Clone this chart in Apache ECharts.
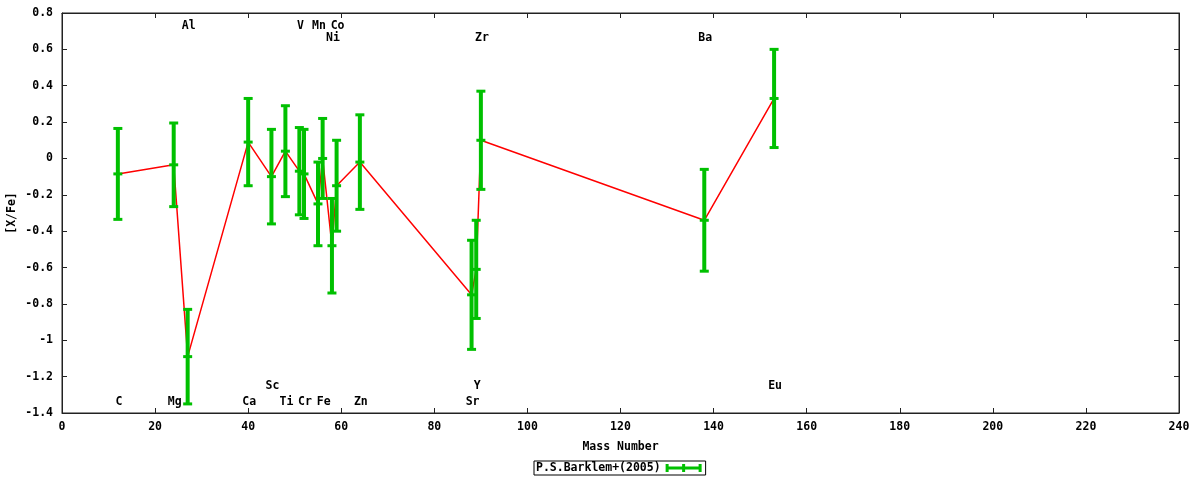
<!DOCTYPE html>
<html>
<head>
<meta charset="utf-8">
<script src="https://cdn.jsdelivr.net/npm/echarts@6/dist/echarts.min.js"></script>
<style>
  html, body { margin: 0; padding: 0; background: #fff; }
  #chart { width: 1200px; height: 480px; }
</style>
</head>
<body>
<div id="chart"></div>
<script>
// element data
const elements = ["C", "Mg", "Al", "Ca", "Sc", "Ti", "V", "Cr", "Mn", "Fe", "Ni", "Co", "Zn", "Sr", "Y", "Zr", "Ba", "Eu"];
const massNumber = [12, 24, 27, 40, 45, 48, 51, 52, 55, 56, 58, 59, 64, 88, 89, 90, 138, 153];
const xFe = [-0.085, -0.035, -1.09, 0.09, -0.10, 0.04, -0.07, -0.085, -0.25, 0.00, -0.48, -0.15, -0.02, -0.75, -0.61, 0.10, -0.34, 0.33];
const xFeErr = [0.25, 0.23, 0.26, 0.24, 0.26, 0.25, 0.24, 0.245, 0.23, 0.22, 0.26, 0.25, 0.26, 0.30, 0.27, 0.27, 0.28, 0.27];

// which element names sit in which label row
const labelsTop = ["Al", "V", "Mn", "Co"];
const labelsTop2 = ["Ni", "Zr", "Ba"];
const labelsBottom2 = ["Sc", "Y", "Eu"];
const labelsBottom = ["C", "Mg", "Ca", "Ti", "Cr", "Fe", "Zn", "Sr"];

const seriesName = "P.S.Barklem+(2005)";

const font = "DejaVu Sans Mono";
const fontSize = 11.5;
const green = "#00c000";

const massOf = el => massNumber[elements.indexOf(el)];
const rowLevels = [
  [labelsTop, 0.731],
  [labelsTop2, 0.665],
  [labelsBottom2, -1.254],
  [labelsBottom, -1.342]
];
const labelData = [];
rowLevels.forEach(([row, y]) => row.forEach(el => labelData.push([massOf(el), y, el])));

const points = massNumber.map((m, i) => [m, xFe[i]]);
const errData = massNumber.map((m, i) => [m, xFe[i], xFe[i] - xFeErr[i], xFe[i] + xFeErr[i]]);

const chart = echarts.init(document.getElementById("chart"));

const axisText = { fontFamily: font, fontWeight: "bold", fontSize: fontSize, color: "#000" };
const border = { show: true, onZero: false, lineStyle: { color: "#222" } };
const ticks = { inside: true, length: 5, lineStyle: { color: "#222" } };

chart.setOption({
  animation: false,
  textStyle: { fontFamily: font },
  grid: {
    left: 62, right: 21, top: 13, bottom: 67,
    outerBoundsMode: "none",
    containLabel: false,
    show: true, borderColor: "#222", borderWidth: 1
  },
  // y axis title, placed like gnuplot's ylabel
  graphic: [
    {
      type: "text", x: 12, y: 213, rotation: Math.PI / 2,
      style: {
        text: "[X/Fe]", fontFamily: font, fontWeight: "bold", fontSize: fontSize,
        fill: "#000", align: "center", verticalAlign: "middle"
      }
    }
  ],
  legend: {
    data: [{ name: seriesName, icon: "path://M0,2.5H36V5.5H0Z M0,0H3V8H0Z M16.5,0H19.5V8H16.5Z M33,0H36V8H33Z" }],
    left: 534, top: 461,
    align: "right",
    itemWidth: 36, itemHeight: 8,
    borderColor: "#000", borderWidth: 1,
    padding: [1, 4, 1, 2],
    textStyle: { fontFamily: font, fontWeight: "bold", fontSize: fontSize, color: "#000" }
  },
  xAxis: [
    {
      type: "value", min: 0, max: 240, interval: 20,
      name: "Mass Number", nameLocation: "middle", nameGap: 28,
      nameTextStyle: axisText,
      axisLine: border,
      axisTick: ticks,
      axisLabel: Object.assign({ margin: 8 }, axisText),
      splitLine: { show: false }
    },
    {
      type: "value", min: 0, max: 240, interval: 20, position: "top",
      axisLine: border,
      axisTick: ticks,
      axisLabel: { show: false },
      splitLine: { show: false }
    }
  ],
  yAxis: [
    {
      type: "value", min: -1.4, max: 0.8, interval: 0.2,
      axisLine: border,
      axisTick: ticks,
      axisLabel: Object.assign({ margin: 9, formatter: v => String(+v.toFixed(1)) }, axisText),
      splitLine: { show: false }
    },
    {
      type: "value", min: -1.4, max: 0.8, interval: 0.2, position: "right",
      axisLine: border,
      axisTick: ticks,
      axisLabel: { show: false },
      splitLine: { show: false }
    }
  ],
  series: [
    {
      name: "line",
      type: "line",
      data: points,
      symbol: "none",
      z: 2,
      lineStyle: { color: "#ff0000", width: 1.5 }
    },
    {
      name: seriesName,
      type: "custom",
      z: 3,
      color: green,
      data: errData,
      renderItem: (params, api) => {
        const x = api.value(0);
        const mid = api.coord([x, api.value(1)]);
        const lo = api.coord([x, api.value(2)]);
        const hi = api.coord([x, api.value(3)]);
        const capW = 9, capH = 3, stemW = 4;
        const cap = p => ({
          type: "rect",
          shape: { x: p[0] - capW / 2, y: p[1] - capH / 2, width: capW, height: capH },
          style: { fill: green }
        });
        return {
          type: "group",
          children: [
            {
              type: "rect",
              shape: { x: mid[0] - stemW / 2, y: hi[1], width: stemW, height: lo[1] - hi[1] },
              style: { fill: green }
            },
            cap(hi), cap(mid), cap(lo)
          ]
        };
      }
    },
    {
      name: "labels",
      type: "custom",
      z: 4,
      data: labelData,
      renderItem: (params, api) => {
        const p = api.coord([api.value(0), api.value(1)]);
        return {
          type: "text",
          x: p[0] + 1, y: p[1],
          style: {
            text: labelData[params.dataIndex][2],
            fontFamily: font, fontWeight: "bold", fontSize: fontSize,
            fill: "#000", align: "center", verticalAlign: "middle"
          }
        };
      }
    }
  ]
});
</script>
</body>
</html>
